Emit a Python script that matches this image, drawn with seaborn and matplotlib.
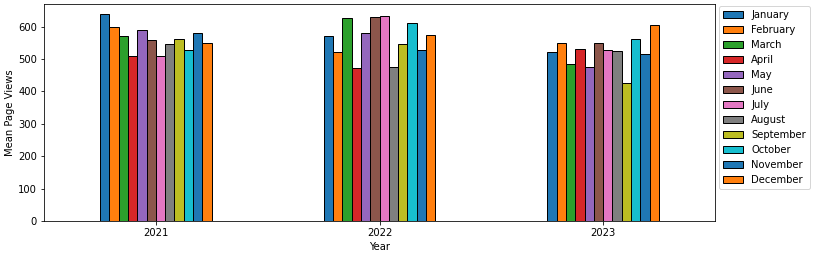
import matplotlib
matplotlib.use("Agg")
import matplotlib.pyplot as plt
import seaborn as sns
import pandas as pd
from matplotlib.patches import Patch

years = ["2021", "2022", "2023"]
months = ["January", "February", "March", "April", "May", "June", "July",
          "August", "September", "October", "November", "December"]
views_2021 = [638, 598, 570, 508, 590, 558, 508, 545, 561, 527, 579, 549]
views_2022 = [570, 521, 626, 471, 582, 629, 633, 474, 545, 610, 527, 574]
views_2023 = [521, 549, 484, 530, 474, 549, 527, 524, 425, 561, 515, 605]

rows = []
for y, vals in zip(years, [views_2021, views_2022, views_2023]):
    for m, v in zip(months, vals):
        rows.append({"Year": y, "Month": m, "Mean Page Views": v})
df = pd.DataFrame(rows)

tab10 = plt.get_cmap("tab10").colors
palette = [tab10[i % 10] for i in range(12)]

DPI = 72
fig = plt.figure(figsize=(813 / DPI, 255 / DPI), dpi=DPI)
ax = fig.add_axes([44 / 813, 1 - 221 / 255, (715 - 44) / 813, (221 - 4) / 255])
sns.barplot(data=df, x="Year", y="Mean Page Views", hue="Month", hue_order=months,
            order=years, palette=palette, width=0.5, edgecolor="black",
            linewidth=1.0, saturation=1, ax=ax, legend=False, errorbar=None)
ax.set_xlim(-0.5, 2.5)
ax.set_ylim(0, 670)
ax.set_xlabel("Year", labelpad=3.5)
ax.set_ylabel("Mean Page Views", labelpad=3)
handles = [Patch(facecolor=palette[i], edgecolor="black", linewidth=1.0, label=m)
           for i, m in enumerate(months)]
ax.legend(handles=handles, loc="upper left", bbox_to_anchor=(1.0, 1.01),
          borderaxespad=0.4)
fig.savefig("out.png", dpi=DPI)
